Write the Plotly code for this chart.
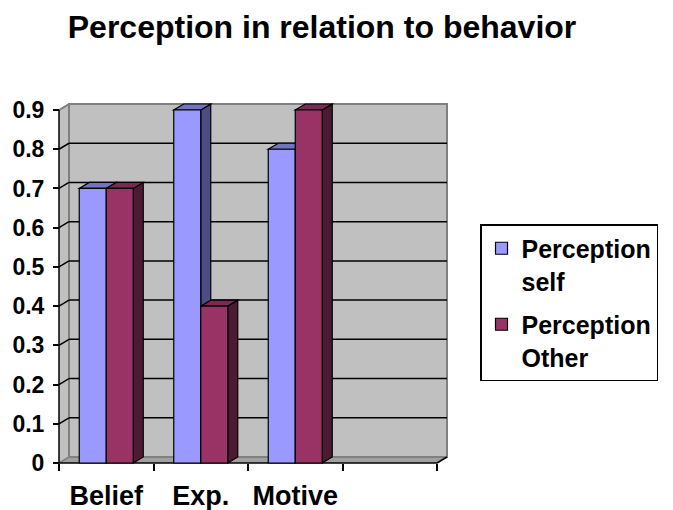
import plotly.graph_objects as go

# ---- data ----
categories = ["Belief", "Exp.", "Motive"]
perception_self = [0.7, 0.9, 0.8]
perception_other = [0.7, 0.4, 0.9]
series_names = ["Perception<br>self", "Perception<br>Other"]
y_ticks = [0, 0.1, 0.2, 0.3, 0.4, 0.5, 0.6, 0.7, 0.8, 0.9]
y_tick_labels = ["0", "0.1", "0.2", "0.3", "0.4", "0.5", "0.6", "0.7", "0.8", "0.9"]
title_text = "Perception in relation to behavior"

# ---- styling / geometry ----
FONT = "Liberation Sans, Arial, sans-serif"
front_cols = ["#9999FF", "#993366"]
top_cols = ["#7373C6", "#7A2952"]
side_cols = ["#4D4D80", "#4C1A33"]

OFF = 8                      # page body margin offset
W, H = 673 - OFF, 510 - OFF
ML, MR, MT, MB = 57 - OFF, 225, 98 - OFF, 46
X0PX, UX = 59.0 - OFF, 94.5        # px of x=-0.5, px per category
Y0PX, UY = 463.0 - OFF, 392.2      # px of y=0, px per unit
dX = 10 / UX                 # depth offset (x)
dY = 6 / UY                  # depth offset (y)

xr = [-0.5 - (X0PX - ML) / UX, -0.5 + (W - MR - X0PX) / UX]
yr = [-(H - MB - Y0PX) / UY, (Y0PX - MT) / UY]
pw, ph = W - ML - MR, H - MT - MB

ncat = len(categories) + 1   # one empty slot on the right, as in the original
xmin, xmax = -0.5, ncat - 0.5
ytop = y_ticks[-1]
bw = 0.2857                  # bar width (category units)


def p(x, y):
    return f"{x:.5f},{y:.5f}"


def path(pts):
    return "M" + " L".join(p(x, y) for x, y in pts) + " Z"


shapes = []


def add(**kw):
    kw.setdefault("xref", "x")
    kw.setdefault("yref", "y")
    kw.setdefault("layer", "below")
    shapes.append(kw)


# back wall
add(type="rect", x0=xmin + dX, y0=dY, x1=xmax + dX, y1=ytop + dY,
    fillcolor="#C0C0C0", line=dict(color="#808080", width=2))
# left wall
add(type="path", path=path([(xmin, 0), (xmin + dX, dY), (xmin + dX, ytop + dY), (xmin, ytop)]),
    fillcolor="#C0C0C0", line=dict(width=0))
# floor
add(type="path", path=path([(xmin, 0), (xmax, 0), (xmax + dX, dY), (xmin + dX, dY)]),
    fillcolor="#A0A0A0", line=dict(width=0))
# wall edges
add(type="line", x0=xmin + dX, y0=dY, x1=xmin + dX, y1=ytop + dY, line=dict(color="#808080", width=2))
add(type="line", x0=xmin, y0=ytop, x1=xmin + dX, y1=ytop + dY, line=dict(color="#808080", width=2))
add(type="line", x0=xmin + dX, y0=dY, x1=xmax + dX, y1=dY, line=dict(color="#808080", width=2))
add(type="line", x0=xmin, y0=0, x1=xmin + dX, y1=dY, line=dict(color="#808080", width=1.5))
# gridlines
for v in y_ticks[1:-1]:
    add(type="line", x0=xmin + dX, y0=v + dY, x1=xmax + dX, y1=v + dY, line=dict(color="black", width=1.5))
    add(type="line", x0=xmin, y0=v, x1=xmin + dX, y1=v + dY, line=dict(color="black", width=1.5))
# front axis lines
add(type="line", x0=xmin, y0=0, x1=xmax, y1=0, line=dict(color="black", width=1.5))
add(type="line", x0=xmax, y0=0, x1=xmax + dX, y1=dY, line=dict(color="black", width=1.5))
add(type="line", x0=xmin, y0=0, x1=xmin, y1=ytop, line=dict(color="black", width=1.5))

# 3D faces of bars (top + side), front faces are the bar traces
series = [perception_self, perception_other]
for ci in range(len(categories)):
    for si, vals in enumerate(series):
        v = vals[ci]
        x0 = ci - bw + si * bw
        x1 = x0 + bw
        add(type="path", path=path([(x1, 0), (x1 + dX, dY), (x1 + dX, v + dY), (x1, v)]),
            fillcolor=side_cols[si], line=dict(color="black", width=1.2))
        add(type="path", path=path([(x0, v), (x1, v), (x1 + dX, v + dY), (x0 + dX, v + dY)]),
            fillcolor=top_cols[si], line=dict(color="black", width=1.2))

fig = go.Figure()
for si, vals in enumerate(series):
    fig.add_trace(go.Bar(
        x=list(range(len(categories))), y=vals, name=series_names[si],
        legendgroup=f"g{si}",
        marker=dict(color=front_cols[si], line=dict(color="black", width=1.2)),
        hoverinfo="skip",
    ))

fig.update_layout(
    width=W, height=H, autosize=False,
    margin=dict(l=ML, r=MR, t=MT, b=MB, pad=0, autoexpand=False),
    paper_bgcolor="white", plot_bgcolor="white",
    barmode="group", bargap=1 - 2 * bw, bargroupgap=0,
    shapes=shapes,
    title=dict(text=title_text, x=(322 - OFF) / W, xanchor="center", xref="container",
               y=1 - (27 - OFF) / H, yanchor="middle", yref="container",
               font=dict(family=FONT, size=32, color="black", weight="bold")),
    font=dict(family=FONT, color="black"),
    xaxis=dict(range=xr, showgrid=False, zeroline=False, showline=False,
               tickmode="array", tickvals=list(range(len(categories))), ticktext=categories,
               ticks="", ticklabelstandoff=14,
               tickfont=dict(family=FONT, size=27, color="black", weight="bold"),
               minor=dict(tickmode="linear", tick0=-0.5, dtick=1, ticks="outside",
                          ticklen=7, tickwidth=1.5, tickcolor="black", showgrid=False),
               anchor="free", position=(H - MB - Y0PX) / ph),
    yaxis=dict(range=yr, showgrid=False, zeroline=False, showline=False,
               tickmode="array", tickvals=y_ticks, ticktext=y_tick_labels,
               ticks="outside", ticklen=6, tickwidth=1.5, tickcolor="black",
               ticklabelstandoff=4,
               tickfont=dict(family=FONT, size=23, color="black", weight="bold"),
               anchor="free", position=(X0PX - ML) / pw),
    legend=dict(x=(480 - OFF - ML) / pw, xanchor="left", y=(H - MB - (224 - OFF)) / ph, yanchor="top",
                bordercolor="black", borderwidth=1.5, bgcolor="white",
                font=dict(family=FONT, size=25, color="black", weight="bold"),
                valign="top", tracegroupgap=8, traceorder="grouped"),
    showlegend=True,
)

fig.write_html("out.html")
